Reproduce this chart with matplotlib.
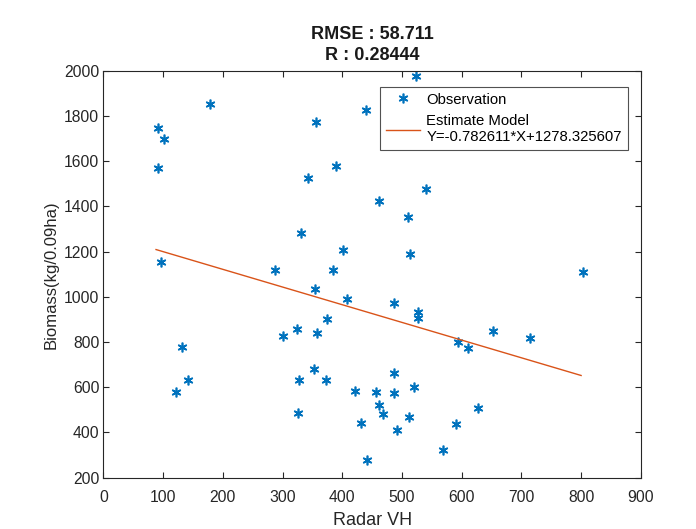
import numpy as np
import matplotlib
matplotlib.use('Agg')
import matplotlib.pyplot as plt

radar_vh = [179, 91, 101, 91, 439, 356, 390, 342, 462, 331,
            402, 96, 287, 385, 355, 408, 524, 541, 510, 514,
            803, 487, 526, 526, 375, 324, 358, 301, 131, 353,
            328, 373, 141, 121, 421, 457, 326, 462, 468, 432,
            441, 653, 715, 593, 611, 487, 520, 487, 628, 512,
            591, 492, 568]
biomass = [1853, 1746, 1697, 1569, 1827, 1774, 1579, 1526, 1423, 1284,
           1207, 1153, 1119, 1119, 1034, 991, 1977, 1476, 1352, 1190,
           1111, 972, 934, 905, 901, 857, 839, 828, 777, 680,
           632, 632, 632, 578, 584, 578, 488, 522, 482, 441,
           278, 850, 817, 802, 775, 662, 600, 573, 507, 467,
           438, 411, 322]

slope = -0.782611
intercept = 1278.325607
rmse = 58.711
r_value = 0.28444

x_ticks = list(range(0, 1000, 100))
y_ticks = list(range(200, 2200, 200))

plt.rcParams['font.family'] = ['Liberation Sans', 'DejaVu Sans']

fig = plt.figure(figsize=(6.96, 5.29), dpi=100)
ax = fig.add_axes([0.1487, 0.097, 0.772, 0.769])

# MATLAB style asterisk markers
ax.plot(radar_vh, biomass, linestyle='none', marker=(6, 2, 0), markersize=7,
        markeredgewidth=1.2, color='#0072BD', label='Observation')

x_fit = np.array([min(radar_vh) - 3, max(radar_vh) - 3])
ax.plot(x_fit, slope * x_fit + intercept, color='#D95319', linewidth=1,
        label='Estimate Model\nY=%f*X+%f' % (slope, intercept))

ax.set_xlim(0, 900)
ax.set_ylim(200, 2000)
ax.set_xticks(x_ticks)
ax.set_yticks(y_ticks)
ax.tick_params(direction='in', top=True, right=True, labelsize=11.3,
               colors='#262626', length=4)
ax.tick_params(axis='x', pad=9)
ax.tick_params(axis='y', pad=3)
for sp in ax.spines.values():
    sp.set_color('#262626')
    sp.set_linewidth(0.8)

ax.set_xlabel('Radar VH', fontsize=13, color='#262626', labelpad=5)
ax.set_ylabel('Biomass(kg/0.09ha)', fontsize=12, color='#262626', labelpad=4)
ax.set_title('RMSE : %.3f\nR : %.5f' % (rmse, r_value), fontsize=13,
             fontweight='bold', linespacing=1.3, pad=8, color='#1a1a1a')

leg = ax.legend(loc='upper right', bbox_to_anchor=(0.976, 0.961),
                fontsize=10.7, frameon=True, fancybox=False,
                borderpad=0.4, labelspacing=0.5, handlelength=2.3,
                handletextpad=0.45, borderaxespad=0)
leg.get_frame().set_edgecolor('#262626')
leg.get_frame().set_linewidth(0.8)

fig.savefig('out.png', dpi=100)
